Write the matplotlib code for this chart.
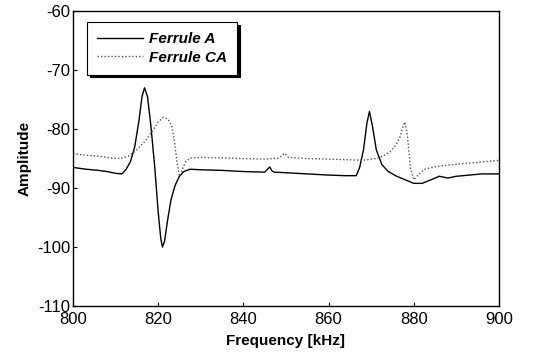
import matplotlib.pyplot as plt
import matplotlib.transforms as mtransforms
from matplotlib.ticker import MultipleLocator

plt.rcParams["font.family"] = ["Liberation Sans", "DejaVu Sans"]
plt.rcParams["axes.unicode_minus"] = False

# Ferrule A response (solid trace)
freq_a = [800, 803, 806, 808, 810, 811.5, 812.5, 813.5, 814.5, 815.5, 816.2, 816.8,
          817.5, 818.3, 819.2, 820.0, 820.6, 821.0, 821.5, 822.2, 823.0, 824.0,
          825.0, 826.0, 827.5, 830, 835, 840, 845, 846.2, 846.7, 847.3, 850, 855,
          860, 864, 866.5, 867.3, 868.2, 869.0, 869.6, 870.3, 871.2, 872.5, 874,
          876, 878, 880, 882, 884, 886, 888, 890, 893, 896, 900]
amp_a = [-86.5, -86.8, -87.0, -87.2, -87.5, -87.6, -86.8, -85.5, -83.0, -78.5,
         -74.5, -73.0, -74.5, -79.5, -86.5, -94.0, -98.5, -100.0, -99.0, -95.5,
         -92.0, -89.5, -88.0, -87.2, -86.8, -86.9, -87.0, -87.2, -87.3, -86.4,
         -87.1, -87.3, -87.4, -87.6, -87.8, -87.9, -87.9, -86.5, -83.5, -79.0,
         -77.0, -79.5, -83.5, -86.0, -87.2, -88.0, -88.6, -89.2, -89.2, -88.6,
         -88.0, -88.3, -88.0, -87.8, -87.6, -87.6]

# Ferrule CA response (dotted trace)
freq_ca = [800, 803, 806, 809, 811, 813, 815, 817, 818.5, 820, 821.2, 822.3,
           823.2, 823.8, 824.4, 825.0, 825.6, 826.4, 827.5, 830, 835, 840, 845,
           848.5, 849.6, 850.6, 855, 860, 865, 868, 871, 873, 874.5, 875.7,
           876.7, 877.4, 877.9, 878.5, 879.2, 880.0, 881.0, 882.5, 885, 888,
           891, 894, 897, 900]
amp_ca = [-84.2, -84.4, -84.6, -84.9, -85.0, -84.6, -83.5, -82.0, -80.5, -78.8,
          -78.0, -78.3, -79.5, -82.0, -85.5, -88.0, -87.0, -85.6, -84.9, -84.8,
          -84.9, -85.0, -85.1, -84.9, -84.1, -84.8, -85.0, -85.1, -85.2, -85.3,
          -85.0, -84.5, -83.8, -82.8, -81.5, -79.8, -78.8, -81.0, -86.5, -88.6,
          -87.8, -86.8, -86.4, -86.1, -85.9, -85.7, -85.5, -85.3]

fig = plt.figure(figsize=(5.43, 3.6), dpi=100)
ax = fig.add_axes([0.1344, 0.15, 0.7845, 0.819])

ax.plot(freq_a, amp_a, color="black", lw=1.0, label="Ferrule A")
ax.plot(freq_ca, amp_ca, color="#555555", lw=1.0, ls=(0, (1, 1.5)), label="Ferrule CA")

ax.set_xlim(800, 900)
ax.set_ylim(-110, -60)
ax.xaxis.set_major_locator(MultipleLocator(20))
ax.yaxis.set_major_locator(MultipleLocator(10))
ax.tick_params(direction="in", length=3, width=0.8, labelsize=12)
ax.tick_params(axis="x", pad=4)
ax.tick_params(axis="y", pad=2)
for s in ax.spines.values():
    s.set_linewidth(1.0)

# lift the bottom y label a little so it clears the first x label
fig.canvas.draw()
bottom_label = ax.get_yticklabels()[0]
bottom_label.set_transform(bottom_label.get_transform()
                           + mtransforms.ScaledTranslation(0, 4 / 72, fig.dpi_scale_trans))

ax.set_xlabel("Frequency [kHz]", fontsize=11, fontweight="bold", labelpad=5)
ax.set_ylabel("Amplitude", fontsize=11, fontweight="bold", labelpad=4)

leg = ax.legend(loc="upper left", bbox_to_anchor=(0.033, 0.963), frameon=True,
                fancybox=False, shadow={"color": "black", "alpha": 1.0},
                prop={"style": "italic", "weight": "bold", "size": 11},
                handlelength=3.0, handletextpad=0.4, borderpad=0.65,
                labelspacing=0.3, borderaxespad=0)
leg.get_frame().set_edgecolor("black")
leg.get_frame().set_linewidth(0.8)

fig.savefig("out.png", dpi=100)
